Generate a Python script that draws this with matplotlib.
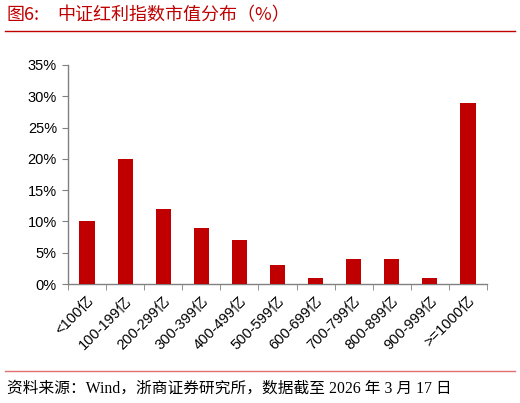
import matplotlib
matplotlib.use("Agg")
import matplotlib.pyplot as plt
from matplotlib.lines import Line2D
import numpy as np

categories = ["<100亿", "100-199亿", "200-299亿", "300-399亿", "400-499亿", "500-599亿",
              "600-699亿", "700-799亿", "800-899亿", "900-999亿", ">=1000亿"]
values = [10, 20, 12, 9, 7, 3, 1, 4, 4, 1, 29]
yticks = [0, 5, 10, 15, 20, 25, 30, 35]
ytick_labels = ["0%", "5%", "10%", "15%", "20%", "25%", "30%", "35%"]

plt.rcParams['font.family'] = ['Liberation Sans', 'Noto Sans CJK SC', 'DejaVu Sans']

fig = plt.figure(figsize=(5.2, 4.03), dpi=100)
ax = fig.add_axes([68/520, 1-284/403, (487-68)/520, (284-65)/403])

x = np.arange(len(categories))
ax.bar(x, values, width=0.4, color="#C00000", zorder=3)
ax.set_xlim(-0.5, len(categories)-0.5)
ax.set_ylim(0, 35)
ax.set_yticks(yticks)
ax.set_yticklabels(ytick_labels, fontsize=10.5)
ax.set_xticks(x)
ax.set_xticklabels(categories, rotation=45, ha="right", rotation_mode="anchor", fontsize=10.5)
ax.tick_params(axis="x", length=0, pad=7)
ax.set_xticks(np.arange(-0.5, len(categories)), minor=True)
ax.tick_params(axis="x", which="minor", length=4, color="#808080", direction="out")
ax.tick_params(axis="y", length=4, color="#808080", direction="out", pad=4)
for s in ["top", "right"]:
    ax.spines[s].set_visible(False)
for s in ["left", "bottom"]:
    ax.spines[s].set_color("#808080")
    ax.spines[s].set_linewidth(1.0)

fig.text(7/520, 1-15/403, "图6:", color="#C00000", fontsize=13, va="center",
         family=['Noto Sans CJK SC', 'DejaVu Sans'])
fig.text(57/520, 1-15/403, "中证红利指数市值分布（%）", color="#C00000", fontsize=13, va="center",
         family=['Noto Sans CJK SC', 'DejaVu Sans'])
fig.add_artist(Line2D([5/520, 515/520], [1-31/403, 1-31/403], color="#C00000", lw=1.0))
fig.add_artist(Line2D([5/520, 515/520], [1-371/403, 1-371/403], color="#E07070", lw=1.0))
fig.text(7/520, 1-389/403, "资料来源：Wind，浙商证券研究所，数据截至 2026 年 3 月 17 日", color="black",
         fontsize=11.3, va="center", family=['Liberation Serif', 'Noto Sans CJK SC', 'DejaVu Sans'])

fig.savefig("out.png", dpi=100)
